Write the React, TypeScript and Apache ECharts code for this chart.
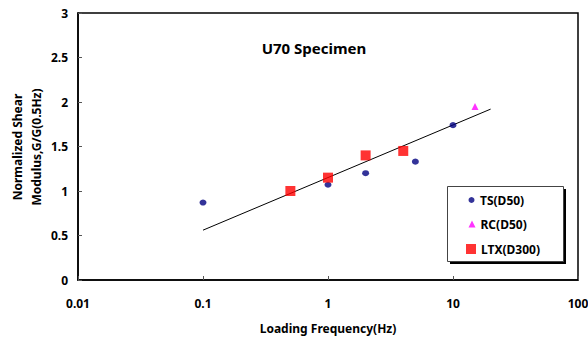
import React, { useEffect, useRef } from "react";
import * as echarts from "echarts";

const tsFreq = [0.1, 1, 2, 5, 10];
const tsVal = [0.87, 1.07, 1.2, 1.33, 1.74];
const rcFreq = [15];
const rcVal = [1.95];
const ltxFreq = [0.5, 1, 2, 4];
const ltxVal = [1.0, 1.15, 1.4, 1.45];
const fitFreq = [0.1, 20];
const fitVal = [0.56, 1.92];
const yAxisTitle = "Normalized Shear\nModulus,G/G(0.5Hz)";

const FONT = "'Noto Sans', sans-serif";

export default function App() {
  const ref = useRef<HTMLDivElement>(null);
  useEffect(() => {
    if (!ref.current) return;
    const chart = echarts.init(ref.current, null, { renderer: "svg" });
    const zip = (xs: number[], ys: number[]) => xs.map((x, i) => [x, ys[i]]);
    const legendBase = {
      orient: "vertical" as const,
      padding: 0,
      selectedMode: false,
      itemGap: 0,
      textStyle: { fontFamily: FONT, fontWeight: "bold", fontSize: 12, color: "#000", lineHeight: 14 },
    };
    chart.setOption({
      animation: false,
      backgroundColor: "#fff",
      title: {
        text: "U70 Specimen",
        left: 309,
        top: 35,
        textAlign: "center",
        textStyle: { fontFamily: FONT, fontWeight: "bold", fontSize: 15, color: "#000" },
      },
      grid: {
        left: 78,
        right: 10,
        top: 13,
        bottom: 60,
        containLabel: false,
        outerBoundsMode: "none",
        show: true,
        borderColor: "#000",
        borderWidth: 1.5,
        backgroundColor: "transparent",
      },
      graphic: [
        {
          type: "text",
          x: 27,
          y: 147,
          rotation: Math.PI / 2,
          style: {
            text: yAxisTitle,
            fontFamily: FONT,
            fontWeight: "bold",
            fontSize: 12,
            lineHeight: 19,
            fill: "#000",
            align: "center",
            verticalAlign: "middle",
          },
        },
        { type: "rect", left: 450, top: 189, shape: { width: 116, height: 75 }, style: { fill: "#000" }, z: 50 },
        { type: "rect", left: 447, top: 186, shape: { width: 116, height: 75 }, style: { fill: "#fff", stroke: "#444", lineWidth: 1 }, z: 51 },
      ],
      legend: [
        { ...legendBase, left: 468.5, top: 193, itemWidth: 7, itemHeight: 6, data: [{ name: "TS(D50)", icon: "circle" }], z: 60 },
        { ...legendBase, left: 468.5, top: 217, itemWidth: 7, itemHeight: 7, data: [{ name: "RC(D50)", icon: "triangle" }], z: 60 },
        { ...legendBase, left: 466, top: 242, itemWidth: 10, itemHeight: 10, data: [{ name: "LTX(D300)", icon: "rect" }], z: 60 },
      ],
      xAxis: {
        type: "log",
        logBase: 10,
        min: 0.01,
        max: 100,
        name: "Loading Frequency(Hz)",
        nameLocation: "middle",
        nameGap: 42,
        nameTextStyle: { fontFamily: FONT, fontWeight: "bold", fontSize: 12, color: "#000" },
        axisLine: { lineStyle: { color: "#000", width: 1.5 } },
        axisTick: { inside: true, length: 4, lineStyle: { color: "#555" } },
        minorTick: { show: false },
        splitLine: { show: false },
        axisLabel: {
          margin: 17,
          fontFamily: FONT,
          fontWeight: "bold",
          fontSize: 12,
          color: "#000",
          formatter: (v: number) => String(v),
        },
      },
      yAxis: {
        type: "value",
        min: 0,
        max: 3,
        interval: 0.5,
        axisLine: { show: true, lineStyle: { color: "#000", width: 1.5 } },
        axisTick: { show: true, inside: true, length: 4, lineStyle: { color: "#555" } },
        splitLine: { show: false },
        axisLabel: { margin: 10, fontFamily: FONT, fontWeight: "bold", fontSize: 12, color: "#000" },
      },
      series: [
        {
          type: "line",
          name: "fit",
          data: zip(fitFreq, fitVal),
          showSymbol: false,
          symbol: "none",
          lineStyle: { color: "#000", width: 1 },
          z: 2,
        },
        {
          type: "scatter",
          name: "TS(D50)",
          data: zip(tsFreq, tsVal),
          symbol: "circle",
          symbolSize: [7, 6],
          itemStyle: { color: "#000080" },
          z: 3,
        },
        {
          type: "scatter",
          name: "RC(D50)",
          data: zip(rcFreq, rcVal),
          symbol: "triangle",
          symbolSize: 7,
          itemStyle: { color: "#FF00FF" },
          z: 3,
        },
        {
          type: "scatter",
          name: "LTX(D300)",
          data: zip(ltxFreq, ltxVal),
          symbol: "rect",
          symbolSize: 10,
          itemStyle: { color: "#FF0000" },
          z: 4,
        },
      ],
    });
    return () => chart.dispose();
  }, []);
  return (
    <div
      ref={ref}
      style={{ position: "fixed", left: 0, top: 0, width: 588, height: 340 }}
    />
  );
}
